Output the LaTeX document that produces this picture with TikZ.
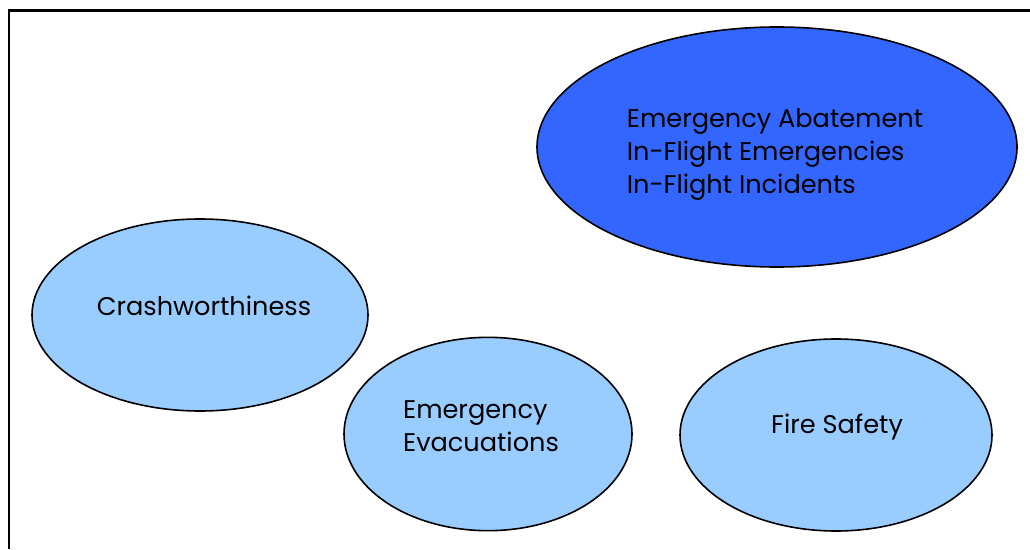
\documentclass[tikz,border=0pt]{standalone}
\usepackage{fontspec}
\setmainfont{Poppins}
\usepackage{xcolor}
\usetikzlibrary{shapes.geometric, positioning}
\definecolor{darkblue}{HTML}{3366FF}
\definecolor{lightblue}{HTML}{99CCFF}
\tikzset{
  topic/.style={ellipse, draw, line width=1.2pt, inner sep=0pt, fill=lightblue},
  label/.style={font=\fontsize{19.2}{24.75}\selectfont, align=left, inner sep=0pt}
}

\begin{document}
\begin{tikzpicture}[x=0.75pt, y=-0.75pt]
\useasboundingbox (0,0) rectangle (1030,549);
\coordinate (tl) at (9,10.5);
\coordinate (tr) at (1030,10.5);
\coordinate (bl) at (9,549);
\draw[line width=1.6pt] (bl) -- (tl) -- (tr);
\node[topic, fill=darkblue, minimum width=360pt, minimum height=180pt] (abate) at (777,147) {};
\node[topic, minimum width=252pt, minimum height=144pt] (crash) at (200,315) {};
\node[topic, minimum width=216pt, minimum height=145pt] (evac) at (488,434) {};
\node[topic, minimum width=234pt, minimum height=144pt] (fire) at (836,435) {};
\node[label] (abatetext) at (775,154) {Emergency Abatement\\In-Flight Emergencies\\In-Flight Incidents};
\node[label] (crashtext) at (204,306) {Crashworthiness};
\node[label] (evactext) at (481,426) {Emergency\\Evacuations};
\node[label] (firetext) at (837,427) {Fire Safety};
\end{tikzpicture}
\end{document}
